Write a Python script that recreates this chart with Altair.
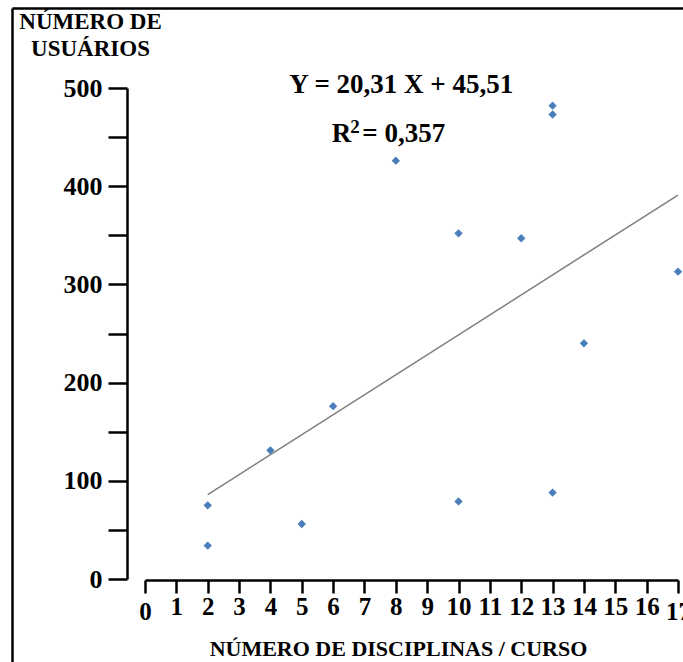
import altair as alt
import pandas as pd

# ---- data ----
disciplinas = [2, 2, 4, 5, 6, 8, 10, 10, 12, 13, 13, 13, 14, 17]
usuarios = [75, 34, 131, 56, 176, 426, 352, 79, 347, 482, 473, 88, 240, 313]

# fitted line endpoints (Y = 20,31 X + 45,51 drawn from x=2 to x=17)
fit_x = [2, 17]
fit_y = [86, 391]

x_ticks = list(range(0, 18))
y_ticks = list(range(0, 501, 50))

eq_text = ["Y = 20,31 X + 45,51"]
eq_x = [8.17]
eq_y = [495]

r_text = ["R", "2", "= 0,357"]
r_x = [5.96, 6.55, 6.93]
r_y = [445, 454, 445]
r_size = [27, 19, 27]

FONT = "Liberation Serif"

pts = pd.DataFrame({"x": disciplinas, "y": usuarios})
fit = pd.DataFrame({"x": fit_x, "y": fit_y})
eq = pd.DataFrame({"x": eq_x, "y": eq_y, "t": eq_text})
r2 = pd.DataFrame({"x": r_x, "y": r_y, "t": r_text, "s": r_size})
frame_df = pd.DataFrame({"fx": [0], "fy": [0]})

xscale = alt.Scale(domain=[0, 17], range=[133, 666], nice=False, zero=False)
yscale = alt.Scale(domain=[0, 500], range=[571, 80], nice=False, zero=False)

x_axis = alt.Axis(
    values=x_ticks, format="d", grid=False, offset=-82, orient="bottom",
    domainColor="black", domainWidth=2.5, tickColor="black", tickWidth=2.5, tickSize=13,
    labelFont=FONT, labelFontSize=25, labelFontWeight="bold", labelColor="black",
    labelPadding={"condition": {"test": "datum.value == 0 || datum.value == 17", "value": 6}, "value": 1},
    labelFlush=False, labelOverlap=False,
    title="NÚMERO DE DISCIPLINAS / CURSO", titleFont=FONT, titleFontSize=22,
    titleFontWeight="bold", titleColor="black", titleX=386, titleY=75,
    titleAlign="center", titleBaseline="alphabetic",
)
y_axis = alt.Axis(
    values=y_ticks, format="d", grid=False, offset=-115, orient="left",
    labelExpr="datum.value % 100 === 0 ? datum.label : ''",
    domainColor="black", domainWidth=2.5, tickColor="black", tickWidth=2.5, tickSize=19,
    labelFont=FONT, labelFontSize=26, labelFontWeight="bold", labelColor="black",
    labelPadding=6, labelFlush=False, labelOverlap=False,
    title=["NÚMERO DE", "USUÁRIOS"], titleFont=FONT, titleFontSize=23,
    titleFontWeight="bold", titleColor="black", titleAngle=0, titleX=-37, titleY=20,
    titleAlign="center", titleBaseline="alphabetic", titleLineHeight=27,
)

X = alt.X("x:Q", scale=xscale, axis=x_axis)
Y = alt.Y("y:Q", scale=yscale, axis=y_axis)

line = alt.Chart(fit).mark_line(color="#7f7f7f", strokeWidth=1.5).encode(x=X, y=Y)

points = alt.Chart(pts).mark_point(
    shape="diamond", filled=True, size=70, color="#4a7ebb", opacity=1
).encode(x=X, y=Y)

eq_layer = alt.Chart(eq).mark_text(
    font=FONT, fontSize=27, fontWeight="bold", color="black", align="center", baseline="alphabetic"
).encode(x=X, y=Y, text="t:N")

r_layer = alt.Chart(r2).mark_text(
    font=FONT, fontWeight="bold", color="black", align="left", baseline="alphabetic"
).encode(x=X, y=Y, text="t:N", size=alt.Size("s:Q", scale=None, legend=None))

main = alt.layer(line, points, eq_layer, r_layer)

# frame of the figure: top and left border drawn by domain-only axes
frame_axis_x = alt.Axis(orient="top", offset=0, domain=True, domainColor="black", domainWidth=2.5,
                        ticks=False, labels=False, grid=False, title=None)
frame_axis_y = alt.Axis(orient="left", offset=0, domain=True, domainColor="black", domainWidth=2.5,
                        ticks=False, labels=False, grid=False, title=None)
frame = alt.Chart(frame_df).mark_point(opacity=0).encode(
    x=alt.X("fx:Q", scale=alt.Scale(domain=[0, 1], nice=False), axis=frame_axis_x),
    y=alt.Y("fy:Q", scale=alt.Scale(domain=[0, 1], nice=False), axis=frame_axis_y),
)

chart = alt.layer(frame, main).resolve_scale(x="independent", y="independent").resolve_axis(
    x="independent", y="independent"
).properties(
    width=671, height=654,
    autosize=alt.AutoSizeParams(type="none"),
    padding={"left": 12, "top": 8, "right": 0, "bottom": 0},
    background="white",
).configure_view(stroke=None)

chart.save("out.html", embed_options={"renderer": "svg", "actions": False})
